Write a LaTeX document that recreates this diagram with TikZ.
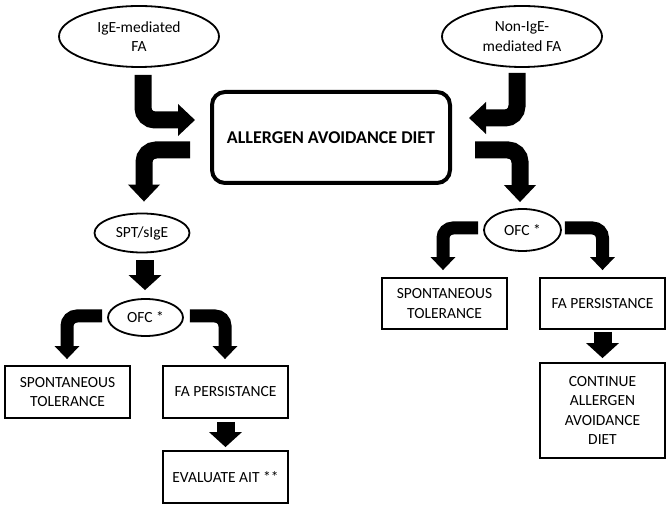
\documentclass[tikz,border=0pt]{standalone}
\usepackage{fontspec}
\setmainfont{Carlito}
\usetikzlibrary{arrows.meta,shapes.geometric}
\begin{document}
\begin{tikzpicture}[x=1pt,y=1pt,
  txt/.style={font=\fontsize{15.5}{19.5}\selectfont, align=center, inner sep=0pt},
  ell/.style={txt, ellipse, draw, line width=1.8pt},
  boxn/.style={txt, rectangle, draw, line width=1.8pt},
  bigarr/.style={line width=17pt, rounded corners=12pt, -{Triangle[width=31pt,length=17pt]}},
  midarr/.style={line width=13pt, rounded corners=10pt, -{Triangle[width=24pt,length=13pt]}},
  strarr/.style={line width=18pt, -{Triangle[width=32pt,length=15pt]}}
]
\useasboundingbox (0,0) rectangle (669,511);
\fill[white] (0,0) rectangle (669,511);

\node[ell, minimum width=160pt, minimum height=61pt] (ige) at (139,474.5) {IgE-mediated\\FA};
\node[ell, minimum width=160pt, minimum height=61pt] (nonige) at (522,474.5) {Non-IgE-\\mediated FA};
\node[txt, draw, line width=4pt, rounded corners=13pt, minimum width=238pt, minimum height=91pt,
      font=\bfseries\fontsize{18}{21}\selectfont] (main) at (331,373.5) {ALLERGEN AVOIDANCE DIET};

\node[ell, minimum width=95pt, minimum height=39pt] (spt) at (142,278) {SPT/sIgE};
\node[ell, minimum width=75pt, minimum height=37pt] (ofcL) at (145.5,193.5) {OFC *};
\node[boxn, minimum width=125pt, minimum height=52pt] (stL) at (67.5,119) {SPONTANEOUS\\TOLERANCE};
\node[boxn, minimum width=125pt, minimum height=52pt] (fapL) at (225.5,119) {FA PERSISTANCE};
\node[boxn, minimum width=125pt, minimum height=52pt] (evalL) at (225.5,34) {EVALUATE AIT **};

\node[ell, minimum width=77pt, minimum height=42pt] (ofcR) at (522.5,281) {OFC *};
\node[boxn, minimum width=125pt, minimum height=51pt] (stR) at (444.5,207.5) {SPONTANEOUS\\TOLERANCE};
\node[boxn, minimum width=125pt, minimum height=51pt] (fapR) at (602.5,207.5) {FA PERSISTANCE};
\node[boxn, minimum width=125pt, minimum height=95pt] (contR) at (602.5,100.5) {CONTINUE\\ALLERGEN\\AVOIDANCE\\DIET};

% top arrows into main
\draw[bigarr] ([xshift=4pt,yshift=-7pt]ige.south) |- ([xshift=-15pt,yshift=17.5pt]main.west);
\draw[bigarr] ([xshift=-5pt,yshift=-5pt]nonige.south) |- ([xshift=17pt,yshift=19.5pt]main.east);
% out of main
\draw[bigarr] ([xshift=-20pt,yshift=-12.5pt]main.west) -| ([xshift=2pt,yshift=11pt]spt.north);
\draw[bigarr] ([xshift=23pt,yshift=-12.5pt]main.east) -| ([xshift=-2.5pt,yshift=6pt]ofcR.north);
% left branch
\draw[strarr] ([xshift=3pt,yshift=-7pt]spt.south) -- ([xshift=-0.5pt,yshift=8pt]ofcL.north);
\draw[midarr] ([xshift=-5pt,yshift=1.5pt]ofcL.west) -| ([xshift=-0.5pt,yshift=6pt]stL.north);
\draw[midarr] ([xshift=6pt,yshift=1.5pt]ofcL.east) -| ([xshift=-0.5pt,yshift=6pt]fapL.north);
\draw[strarr] ([yshift=-3pt]fapL.south) -- ([yshift=3pt]evalL.north);
% right branch
\draw[midarr] ([xshift=-5pt,yshift=2pt]ofcR.west) -| ([xshift=-1.5pt,yshift=7pt]stR.north);
\draw[midarr] ([xshift=3pt,yshift=2pt]ofcR.east) -| ([xshift=0pt,yshift=7pt]fapR.north);
\draw[strarr] ([yshift=-2pt]fapR.south) -- ([yshift=4pt]contR.north);
\end{tikzpicture}
\end{document}
